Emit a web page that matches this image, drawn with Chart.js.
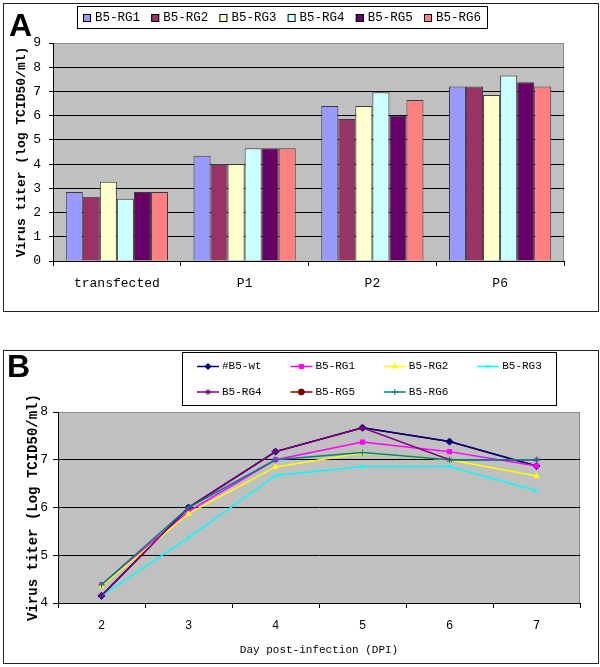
<!DOCTYPE html>
<html>
<head>
<meta charset="utf-8">
<title>Virus titer</title>
<script src="https://cdn.jsdelivr.net/npm/chart.js@4.4.1/dist/chart.umd.min.js"></script>
<style>
  body { margin: 0; background: #fff; width: 600px; height: 667px; position: relative; overflow: hidden; }
  .frame { position: absolute; border: 1px solid #222; box-sizing: border-box; }
  .frame canvas { display: block; }
  .letter { position: absolute; font: bold 32px "Liberation Sans", Arial, sans-serif; line-height: 32px; color: #000; }
</style>
</head>
<body>
<div class="frame" style="left:3px;top:3px;width:596px;height:309px">
  <canvas id="chartA" width="594" height="307"></canvas>
</div>
<div class="frame" style="left:3px;top:350px;width:596px;height:314px">
  <canvas id="chartB" width="594" height="312"></canvas>
</div>
<div class="letter" style="left:9px;top:9px">A</div>
<div class="letter" style="left:7px;top:350px">B</div>

<script>
// panel A - titer after transfection and passages
const passages = ['transfected', 'P1', 'P2', 'P6'];
const barNames = ['B5-RG1', 'B5-RG2', 'B5-RG3', 'B5-RG4', 'B5-RG5', 'B5-RG6'];
const rg1Titer = [2.85, 4.35, 6.4, 7.2];
const rg2Titer = [2.65, 4.0, 5.86, 7.2];
const rg3Titer = [3.27, 4.0, 6.4, 6.85];
const rg4Titer = [2.57, 4.65, 6.97, 7.66];
const rg5Titer = [2.85, 4.65, 6.0, 7.38];
const rg6Titer = [2.85, 4.65, 6.65, 7.2];
const titerTicksA = [0, 9];

// panel B - growth kinetics
const days = ['2', '3', '4', '5', '6', '7'];
const lineNames = ['#B5-wt', 'B5-RG1', 'B5-RG2', 'B5-RG3', 'B5-RG4', 'B5-RG5', 'B5-RG6'];
const wtKin = [4.15, 6.0, 7.17, 7.67, 7.38, 6.87];
const rg1Kin = [4.38, 5.92, 7.0, 7.37, 7.17, 6.87];
const rg2Kin = [4.35, 5.87, 6.85, 7.14, 7.0, 6.66];
const rg3Kin = [4.15, 5.37, 6.67, 6.86, 6.86, 6.35];
const rg4Kin = [4.15, 6.0, 7.17, 7.67, 7.0, 7.0];
const rg5Kin = [4.15, 6.0, 7.17, 7.67, 7.38, 6.87];
const rg6Kin = [4.38, 6.0, 7.0, 7.15, 7.0, 7.0];
const titerTicksB = [4, 8];

const MONO = '"Liberation Mono", "DejaVu Sans Mono", monospace';
Chart.defaults.color = '#000';
Chart.defaults.animation = false;

// gray plot area like the old Excel charts
const plotBg = {
  id: 'plotBg',
  beforeDraw(chart) {
    const { ctx, chartArea: a } = chart;
    ctx.save();
    ctx.fillStyle = '#c0c0c0';
    ctx.fillRect(a.left, a.top, a.right - a.left, a.bottom - a.top);
    ctx.strokeStyle = '#8c8c8c';
    ctx.lineWidth = 1;
    ctx.strokeRect(a.left + 0.5, a.top + 0.5, a.right - a.left - 1, a.bottom - a.top);
    ctx.restore();
  }
};

// boxed legend laid out in fixed columns
const boxLegend = {
  id: 'boxLegend',
  afterDraw(chart, args, o) {
    const ctx = chart.ctx;
    ctx.save();
    ctx.strokeStyle = '#000';
    ctx.lineWidth = 1;
    ctx.strokeRect(o.x + 0.5, o.y + 0.5, o.w, o.h);
    ctx.font = o.font;
    ctx.textBaseline = 'middle';
    chart.data.datasets.forEach((ds, i) => {
      const x = o.itemX + (i % o.cols) * o.colW;
      const y = o.itemY + Math.floor(i / o.cols) * o.rowH;
      if (o.kind === 'bar') {
        ctx.fillStyle = ds.backgroundColor;
        ctx.fillRect(x, y - o.sw / 2, o.sw, o.sw);
        ctx.strokeStyle = '#000';
        ctx.lineWidth = 1;
        ctx.strokeRect(x + 0.5, y - o.sw / 2 + 0.5, o.sw - 1, o.sw - 1);
      } else {
        ctx.strokeStyle = ds.borderColor;
        ctx.lineWidth = 1.5;
        ctx.beginPath();
        ctx.moveTo(x, y);
        ctx.lineTo(x + o.lineLen, y);
        ctx.stroke();
        ctx.fillStyle = ds.borderColor;
        ctx.lineWidth = 1;
        Chart.helpers.drawPoint(ctx, { pointStyle: ds.pointStyle, radius: 3, borderWidth: 1, rotation: 0 },
          x + o.lineLen / 2, y);
      }
      ctx.fillStyle = '#000';
      ctx.fillText(ds.label, x + o.textDx, y);
    });
    ctx.restore();
  }
};

const barColors = ['#9999ff', '#993366', '#ffffcc', '#ccffff', '#660066', '#ff8080'];
const barData = [rg1Titer, rg2Titer, rg3Titer, rg4Titer, rg5Titer, rg6Titer];

new Chart(document.getElementById('chartA'), {
  type: 'bar',
  data: {
    labels: passages,
    datasets: barNames.map((name, i) => ({
      label: name,
      data: barData[i],
      backgroundColor: barColors[i],
      borderColor: '#3a3a3a',
      borderWidth: 1,
      categoryPercentage: 0.8,
      barPercentage: 1.0
    }))
  },
  options: {
    responsive: false,
    layout: { padding: { top: 39, right: 34, left: 0, bottom: 0 } },
    plugins: {
      legend: { display: false },
      tooltip: { enabled: false },
      boxLegend: {
        kind: 'bar', x: 73, y: 2, w: 410, h: 22,
        itemX: 79, itemY: 14, cols: 6, colW: 68.2, rowH: 0,
        sw: 8, textDx: 12, font: '12.5px ' + MONO
      }
    },
    scales: {
      x: {
        grid: { offset: true, drawOnChartArea: false, tickLength: 5, color: '#000' },
        border: { color: '#000' },
        ticks: { font: { family: MONO, size: 13 }, color: '#000', padding: 10 },
        afterFit(s) { s.height = 50; }
      },
      y: {
        min: titerTicksA[0],
        max: titerTicksA[1],
        ticks: { stepSize: 1, font: { family: MONO, size: 13 }, color: '#000', padding: 8 },
        grid: {
          color: c => (c.tick && c.tick.value === titerTicksA[1]) ? 'rgba(0,0,0,0)' : '#000',
          tickColor: '#000',
          tickLength: 4
        },
        border: { color: '#000' },
        title: {
          display: true, text: 'Virus titer (log TCID50/ml)', color: '#000',
          font: { family: MONO, size: 13, weight: 'bold' }, padding: { top: 10, bottom: 0 }
        },
        afterFit(s) { s.width = 49; }
      }
    }
  },
  plugins: [plotBg, boxLegend]
});

const lineColors = ['#000080', '#ff00ff', '#ffff00', '#00ffff', '#800080', '#800000', '#008080'];
const lineMarks = ['rectRot', 'rect', 'triangle', 'crossRot', 'star', 'circle', 'cross'];
const markSize = [3.5, 3, 3, 3, 3, 1.5, 3];
const lineOrder = [5, 4, 3, 2, 1, 6, 0]; // lower order is drawn on top
const lineData = [wtKin, rg1Kin, rg2Kin, rg3Kin, rg4Kin, rg5Kin, rg6Kin];

new Chart(document.getElementById('chartB'), {
  type: 'line',
  data: {
    labels: days,
    datasets: lineNames.map((name, i) => ({
      label: name,
      data: lineData[i],
      borderColor: lineColors[i],
      backgroundColor: lineColors[i],
      pointBackgroundColor: lineColors[i],
      pointBorderColor: lineColors[i],
      pointStyle: lineMarks[i],
      pointRadius: markSize[i],
      pointBorderWidth: 1,
      borderWidth: 1.5,
      tension: 0,
      fill: false,
      order: lineOrder[i]
    }))
  },
  options: {
    responsive: false,
    layout: { padding: { top: 61, right: 18, left: 0, bottom: 0 } },
    plugins: {
      legend: { display: false },
      tooltip: { enabled: false },
      boxLegend: {
        kind: 'line', x: 178, y: 1, w: 374, h: 53,
        itemX: 193, itemY: 15.5, cols: 4, colW: 93.4, rowH: 25.5,
        lineLen: 22, textDx: 25, font: '11px ' + MONO
      }
    },
    scales: {
      x: {
        offset: true,
        grid: { offset: true, drawOnChartArea: false, tickLength: 5, color: '#000' },
        border: { color: '#000' },
        ticks: { font: { family: MONO, size: 12 }, color: '#000', padding: 11 },
        title: {
          display: true, text: 'Day post-infection (DPI)', color: '#000',
          font: { family: MONO, size: 11 }, padding: { top: 0, bottom: 6 }
        },
        afterFit(s) { s.height = 60; }
      },
      y: {
        min: titerTicksB[0],
        max: titerTicksB[1],
        ticks: { stepSize: 1, font: { family: MONO, size: 13 }, color: '#000', padding: 5 },
        grid: {
          color: c => (c.tick && c.tick.value === titerTicksB[1]) ? 'rgba(0,0,0,0)' : '#000',
          tickColor: '#000',
          tickLength: 5
        },
        border: { color: '#000' },
        title: {
          display: true, text: 'Virus titer (Log TCID50/ml)', color: '#000',
          font: { family: MONO, size: 14, weight: 'bold' }, padding: { top: 21, bottom: 0 }
        },
        afterFit(s) { s.width = 54; }
      }
    }
  },
  plugins: [plotBg, boxLegend]
});
</script>
</body>
</html>
